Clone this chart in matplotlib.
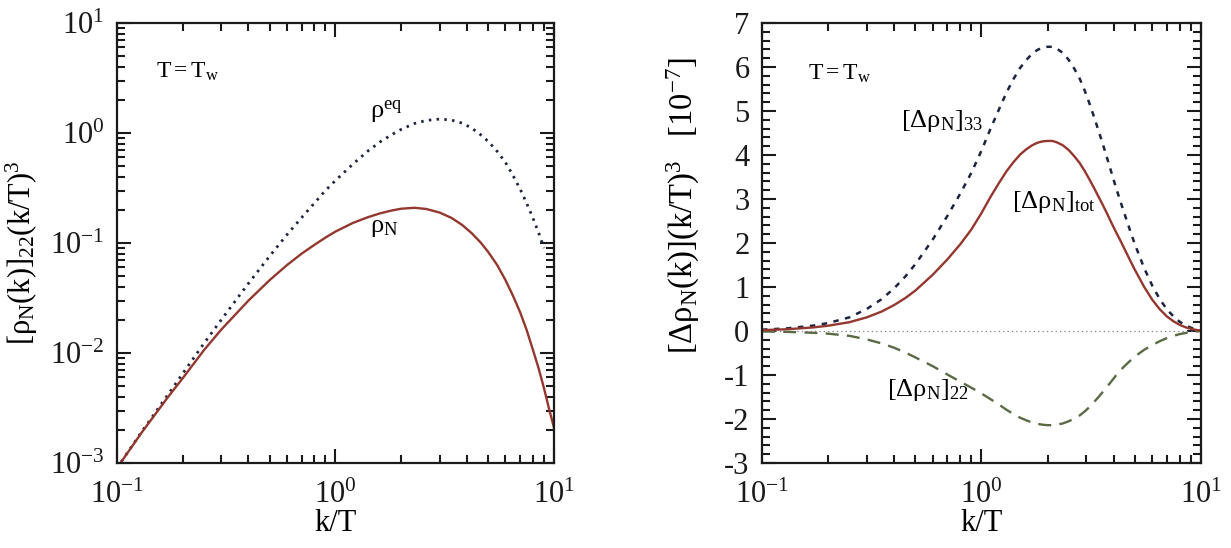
import matplotlib
matplotlib.use("Agg")
import matplotlib.pyplot as plt
from matplotlib.ticker import LogLocator, MultipleLocator, NullFormatter

plt.rcParams.update({
    "font.family": ["Liberation Serif", "DejaVu Serif"],
    "mathtext.fontset": "custom",
    "mathtext.rm": "Liberation Serif",
    "mathtext.it": "Liberation Serif:italic",
    "mathtext.bf": "Liberation Serif:bold",
    "axes.unicode_minus": False,
})

# ---- left panel: number densities (log-log) ----
k_eq = [0.1, 0.13, 0.17, 0.2, 0.25, 0.3, 0.4, 0.5, 0.6, 0.7, 0.8, 0.9, 1.0,
        1.2, 1.4, 1.6, 1.8, 2.0, 2.3, 2.6, 3.0, 3.4, 3.8, 4.2, 4.6, 5.0,
        5.5, 6.0, 6.5, 7.0, 7.5, 8.0, 8.5, 9.0]
rho_eq = [9.0e-4, 1.93e-3, 4.1e-3, 6.5e-3, 0.0122, 0.020, 0.043, 0.076,
          0.119, 0.17, 0.23, 0.30, 0.37, 0.52, 0.68, 0.83, 0.96, 1.08,
          1.22, 1.30, 1.34, 1.31, 1.23, 1.11, 0.97, 0.84, 0.68, 0.54,
          0.41, 0.31, 0.23, 0.17, 0.125, 0.09]

k_N = [0.1, 0.13, 0.17, 0.2, 0.25, 0.3, 0.4, 0.5, 0.6, 0.7, 0.8, 0.9, 1.0,
       1.2, 1.4, 1.6, 1.8, 2.0, 2.3, 2.6, 3.0, 3.4, 3.8, 4.2, 4.6, 5.0,
       5.5, 6.0, 6.5, 7.0, 7.5, 8.0, 8.5, 9.0, 9.5, 10.0]
rho_N = [9.0e-4, 1.9e-3, 3.9e-3, 5.9e-3, 0.0106, 0.0163, 0.030, 0.046,
         0.063, 0.080, 0.096, 0.112, 0.127, 0.152, 0.171, 0.186, 0.197,
         0.205, 0.209, 0.204, 0.189, 0.169, 0.146, 0.123, 0.102, 0.083,
         0.063, 0.046, 0.033, 0.0235, 0.0162, 0.0108, 0.0073, 0.0048,
         0.0031, 0.0021]

# ---- right panel: deviations from equilibrium, units of 1e-7 ----
k_d = [0.1, 0.13, 0.17, 0.2, 0.25, 0.3, 0.35, 0.4, 0.45, 0.5, 0.6, 0.7,
       0.8, 0.9, 1.0, 1.1, 1.2, 1.3, 1.4, 1.5, 1.6, 1.7, 1.8, 1.9, 2.0,
       2.1, 2.2, 2.35, 2.5, 2.65, 2.8, 2.95, 3.1, 3.25, 3.4, 3.55, 3.7,
       3.9, 4.1, 4.3, 4.5, 4.75, 5.0, 5.5, 6.0, 6.5, 7.0, 7.5, 8.0, 8.5,
       9.0, 9.5, 10.0]
d_33 = [0.03, 0.06, 0.12, 0.18, 0.31, 0.50, 0.72, 0.97, 1.24, 1.52, 2.08,
        2.62, 3.12, 3.60, 4.10, 4.60, 5.03, 5.42, 5.73, 5.98, 6.16, 6.30,
        6.39, 6.44, 6.46, 6.46, 6.42, 6.32, 6.16, 5.96, 5.74, 5.47, 5.18,
        4.88, 4.58, 4.29, 4.00, 3.62, 3.26, 2.94, 2.64, 2.29, 1.97, 1.44,
        1.03, 0.72, 0.49, 0.33, 0.21, 0.13, 0.075, 0.035, 0.01]
d_tot = [0.02, 0.04, 0.08, 0.12, 0.20, 0.31, 0.44, 0.59, 0.75, 0.92, 1.28,
         1.63, 1.97, 2.31, 2.68, 3.05, 3.36, 3.63, 3.84, 4.01, 4.13, 4.22,
         4.28, 4.31, 4.32, 4.32, 4.29, 4.22, 4.11, 3.97, 3.82, 3.64, 3.45,
         3.26, 3.07, 2.89, 2.71, 2.47, 2.25, 2.05, 1.85, 1.61, 1.39, 1.01,
         0.71, 0.49, 0.33, 0.22, 0.14, 0.085, 0.05, 0.025, 0.01]
d_22 = [-0.01, -0.02, -0.04, -0.06, -0.11, -0.19, -0.28, -0.38, -0.49,
        -0.60, -0.80, -0.99, -1.15, -1.29, -1.42, -1.55, -1.67, -1.79,
        -1.89, -1.97, -2.03, -2.08, -2.11, -2.13, -2.14, -2.14, -2.13,
        -2.10, -2.05, -1.99, -1.92, -1.83, -1.73, -1.62, -1.51, -1.40,
        -1.29, -1.15, -1.01, -0.89, -0.79, -0.68, -0.58, -0.43, -0.32,
        -0.23, -0.16, -0.11, -0.07, -0.045, -0.025, -0.01, 0.0]

c_solid = "#93372f"
c_dot = "#1e2440"
c_dash = "#5b6a45"

fig = plt.figure(figsize=(12.31, 5.48), dpi=100)
ax1 = fig.add_axes([0.0950, 0.1551, 0.3550, 0.8029])
ax2 = fig.add_axes([0.6190, 0.1551, 0.3566, 0.8029])


def style_axes(ax):
    for s in ax.spines.values():
        s.set_linewidth(1.6)
        s.set_color("#1a1a1a")
    ax.tick_params(which="both", direction="in", top=True, right=True,
                   colors="#1a1a1a", labelsize=22, pad=9)
    ax.tick_params(axis="x", which="both", pad=13)
    ax.tick_params(which="major", length=10, width=1.5)
    ax.tick_params(which="minor", length=6, width=1.5)


# left panel
ax1.plot(k_eq, rho_eq, color=c_dot, lw=2.0, linestyle=(0, (0.9, 1.9)))
ax1.plot(k_N, rho_N, color=c_solid, lw=1.7)
ax1.set_xscale("log")
ax1.set_yscale("log")
ax1.set_xlim(0.1, 10)
ax1.set_ylim(1e-3, 10)
ax1.xaxis.set_major_locator(LogLocator(base=10, numticks=10))
ax1.yaxis.set_major_locator(LogLocator(base=10, numticks=10))
ax1.xaxis.set_minor_locator(LogLocator(base=10, subs=range(2, 10), numticks=20))
ax1.yaxis.set_minor_locator(LogLocator(base=10, subs=range(2, 10), numticks=20))
ax1.xaxis.set_minor_formatter(NullFormatter())
ax1.yaxis.set_minor_formatter(NullFormatter())
style_axes(ax1)
ax1.set_xlabel("k/T", fontsize=22, labelpad=-1)
ax1.set_ylabel(r"$\mathrm{[ρ_N(k)]_{22}(k/T)^3}$", fontsize=22)
ax1.yaxis.set_label_coords(-0.176, 0.477)
ax1.text(0.09, 0.89, r"$\mathrm{T{=}T_w}$", transform=ax1.transAxes,
         fontsize=17, va="center", ha="left")
ax1.text(1.44, 1.55, r"$\mathrm{ρ^{eq}}$", fontsize=19, va="center")
ax1.text(1.44, 0.138, r"$\mathrm{ρ_N}$", fontsize=19, va="center")

# right panel
ax2.axhline(0.0, color="#7a8090", lw=0.9, linestyle=(0, (1, 2.5)))
ax2.plot(k_d, d_33, color=c_dot, lw=1.8, linestyle=(0, (2.2, 2.6)))
ax2.plot(k_d, d_22, color=c_dash, lw=1.7, linestyle=(0, (5.5, 3.5)))
ax2.plot(k_d, d_tot, color=c_solid, lw=1.7)
ax2.set_xscale("log")
ax2.set_xlim(0.1, 10)
ax2.set_ylim(-3, 7)
ax2.xaxis.set_major_locator(LogLocator(base=10, numticks=10))
ax2.xaxis.set_minor_locator(LogLocator(base=10, subs=range(2, 10), numticks=20))
ax2.xaxis.set_minor_formatter(NullFormatter())
ax2.yaxis.set_major_locator(MultipleLocator(1))
ax2.yaxis.set_minor_locator(MultipleLocator(0.2))
style_axes(ax2)
ax2.set_xlabel("k/T", fontsize=22, labelpad=-1)
ax2.set_ylabel(r"$\mathrm{[Δρ_N(k)](k/T)^3\quad[10^{-7}]}$", fontsize=23.5)
ax2.yaxis.set_label_coords(-0.137, 0.586)
ax2.text(0.105, 0.885, r"$\mathrm{T{=}T_w}$", transform=ax2.transAxes,
         fontsize=17, va="center", ha="left")
ax2.text(0.317, 0.777, r"$\mathrm{[Δρ_N]_{33}}$", transform=ax2.transAxes,
         fontsize=19, va="center", ha="left")
ax2.text(0.569, 0.593, r"$\mathrm{[Δρ_N]_{tot}}$", transform=ax2.transAxes,
         fontsize=19, va="center", ha="left")
ax2.text(0.285, 0.166, r"$\mathrm{[Δρ_N]_{22}}$", transform=ax2.transAxes,
         fontsize=19, va="center", ha="left")

fig.savefig("out.png", dpi=100, facecolor="white")
